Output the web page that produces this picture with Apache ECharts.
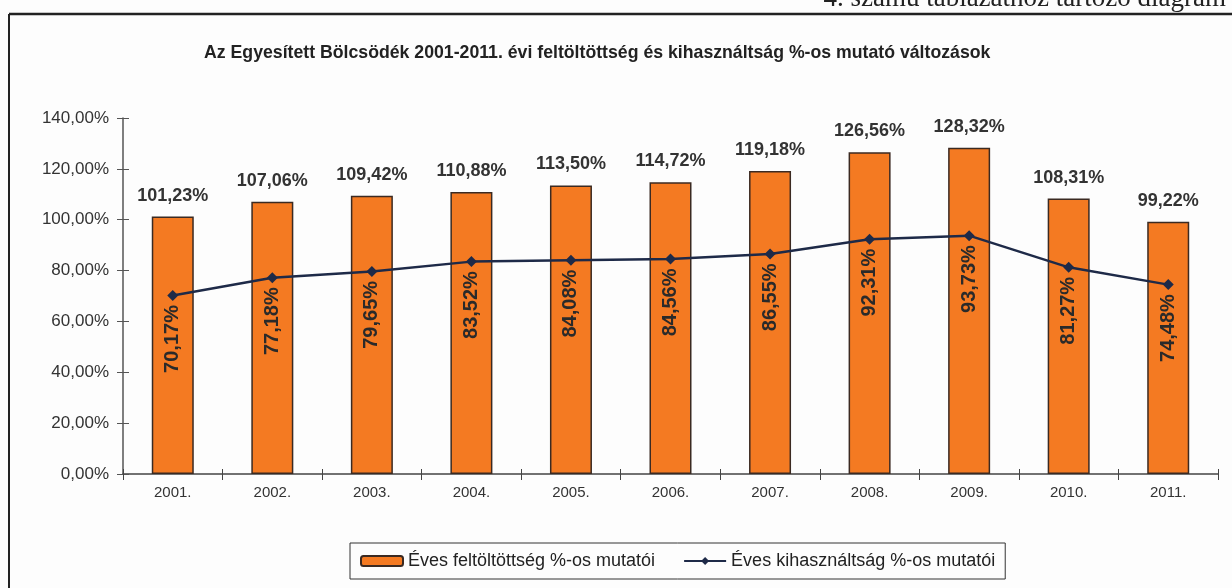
<!DOCTYPE html>
<html>
<head>
<meta charset="utf-8">
<script src="https://cdn.jsdelivr.net/npm/echarts@6/dist/echarts.min.js"></script>
<style>
  html, body { margin: 0; padding: 0; background: #fdfdfd; }
  #chart { width: 1232px; height: 588px; }
</style>
</head>
<body>
<div id="chart"></div>
<script>
// adatok
const years = ['2001.', '2002.', '2003.', '2004.', '2005.', '2006.', '2007.', '2008.', '2009.', '2010.', '2011.']
const feltoltottseg = [101.23, 107.06, 109.42, 110.88, 113.50, 114.72, 119.18, 126.56, 128.32, 108.31, 99.22]
const kihasznaltsag = [70.17, 77.18, 79.65, 83.52, 84.08, 84.56, 86.55, 92.31, 93.73, 81.27, 74.48]
const legendNames = ['Éves feltöltöttség %-os mutatói', 'Éves kihasználtság %-os mutatói']

const font = 'Arial, "Liberation Sans", sans-serif'
const pct = v => v.toFixed(2).replace('.', ',') + '%'

const chart = echarts.init(document.getElementById('chart'))

chart.setOption({
  backgroundColor: '#fdfdfd',
  animation: false,
  title: {
    text: 'Az Egyesített Bölcsödék 2001-2011. évi feltöltöttség és kihasználtság %-os mutató változások',
    left: 199,
    top: 39,
    textStyle: { fontFamily: font, fontSize: 17.7, fontWeight: 'bold', color: '#222' }
  },
  graphic: [
    {
      type: 'text',
      right: 6,
      top: -15,
      style: {
        text: '4. számú táblázathoz tartozó diagram',
        font: '27px "Liberation Serif", "Times New Roman", serif',
        fill: '#222'
      }
    },
    // keret
    { type: 'line', shape: { x1: 9, y1: 14, x2: 1232, y2: 14 }, style: { stroke: '#222', lineWidth: 2.5 } },
    { type: 'line', shape: { x1: 9, y1: 14, x2: 9, y2: 588 }, style: { stroke: '#222', lineWidth: 2 } }
  ],
  legend: {
    left: 350,
    top: 543,
    data: legendNames,
    itemWidth: 42,
    itemHeight: 10,
    itemGap: 28,
    padding: [9, 10, 9, 10],
    borderColor: '#333',
    borderWidth: 1,
    textStyle: { fontFamily: font, fontSize: 18, color: '#222' }
  },
  grid: {
    left: 123,
    right: 14,
    top: 118,
    bottom: 114
  },
  xAxis: [
    {
      type: 'category',
      data: years,
      boundaryGap: true,
      axisLine: { lineStyle: { color: '#444', width: 1.5 } },
      axisTick: { show: true, length: 6, lineStyle: { color: '#444' } },
      axisLabel: { fontFamily: font, fontSize: 15, color: '#333', margin: 11 }
    },
    {
      // belső tick jelek (keresztező)
      type: 'category',
      data: years,
      position: 'bottom',
      boundaryGap: true,
      axisLine: { show: false },
      axisTick: { show: true, inside: true, length: 5, lineStyle: { color: '#444' } },
      axisLabel: { show: false }
    }
  ],
  yAxis: [
    {
      type: 'value',
      min: 0,
      max: 140,
      interval: 20,
      splitLine: { show: false },
      axisLine: { show: true, lineStyle: { color: '#555', width: 1.5 } },
      axisTick: { show: true, length: 6, lineStyle: { color: '#555' } },
      axisLabel: { fontFamily: font, fontSize: 17, color: '#333', margin: 14, formatter: pct }
    },
    {
      // belső tick jelek (keresztező)
      type: 'value',
      position: 'left',
      min: 0,
      max: 140,
      interval: 20,
      splitLine: { show: false },
      axisLine: { show: false },
      axisTick: { show: true, inside: true, length: 6, lineStyle: { color: '#555' } },
      axisLabel: { show: false }
    }
  ],
  series: [
    {
      name: legendNames[0],
      type: 'bar',
      data: feltoltottseg,
      barWidth: 42,
      itemStyle: { color: '#f47a22', borderColor: '#3b2a22', borderWidth: 1.5 },
      label: {
        show: true,
        position: 'top',
        distance: 12,
        fontFamily: font,
        fontSize: 18,
        fontWeight: 'bold',
        color: '#333',
        formatter: p => pct(p.value)
      }
    },
    {
      name: legendNames[1],
      type: 'line',
      data: kihasznaltsag,
      symbol: 'diamond',
      symbolSize: 11,
      z: 5,
      lineStyle: { color: '#1e2a48', width: 2.5 },
      itemStyle: { color: '#1e2a48' },
      label: {
        show: true,
        position: 'bottom',
        distance: 4,
        rotate: 90,
        align: 'right',
        verticalAlign: 'middle',
        fontFamily: font,
        fontSize: 20,
        fontWeight: 'bold',
        color: '#2a2a2a',
        formatter: p => pct(p.value)
      }
    }
  ]
})
</script>
</body>
</html>
